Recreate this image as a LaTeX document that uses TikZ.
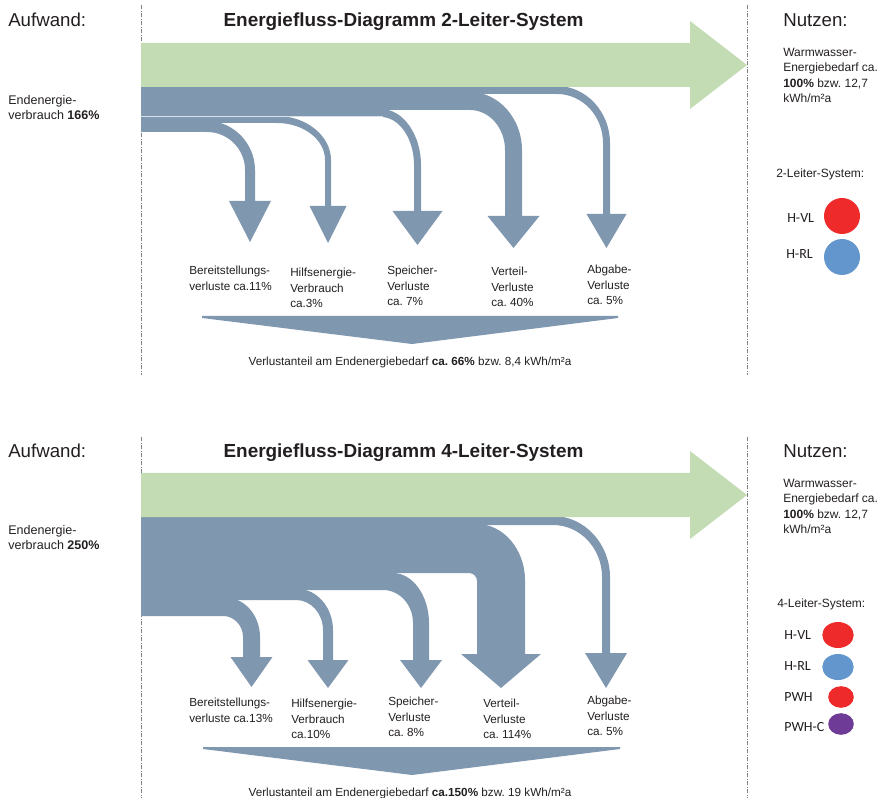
\documentclass[tikz,border=0pt]{standalone}
\usepackage{fontspec}
\setmainfont{Liberation Sans}
\newfontfamily\legendfont{Carlito}
\frenchspacing

\definecolor{flowblue}{HTML}{8097B0}
\definecolor{usegreen}{HTML}{C3DCB3}
\definecolor{pipered}{HTML}{EE2A2A}
\definecolor{pipeblue}{HTML}{6396CD}
\definecolor{pipeviolet}{HTML}{6E3C96}
\definecolor{ink}{HTML}{231F20}

\begin{document}
\begin{tikzpicture}[
  x=0.75pt, y=-0.75pt,
  flow/.style={fill=flowblue},
  gain/.style={fill=usegreen},
  seam/.style={draw=white!70!flowblue, line width=0.7pt},
  sepline/.style={draw=gray, line width=0.5pt, dash pattern=on 3pt off 1.2pt on 0.6pt off 1.2pt},
  side/.style={font=\fontsize{14}{16}\selectfont, text=ink, anchor=base west, inner sep=0pt},
  headline/.style={font=\fontsize{14.2}{16}\selectfont\bfseries, text=ink, anchor=base, inner sep=0pt},
  txt/.style={font=\fontsize{8.8}{11.6}\selectfont, text=ink, align=left, anchor=north west, inner sep=0pt},
  note/.style={txt, font=\fontsize{9.4}{11.3}\selectfont},
  gainnote/.style={txt, font=\fontsize{9}{11.5}\selectfont},
  sum/.style={font=\fontsize{8.8}{11}\selectfont, text=ink, anchor=base, inner sep=0pt},
  key/.style={font=\legendfont\fontsize{10.5}{12}\selectfont, text=ink, anchor=west, inner sep=0pt}
]
\useasboundingbox (0,0) rectangle (882,798);

% --- dashed frame lines ---
\draw[sepline] (141,5) -- (141,375);
\draw[sepline] (747,5) -- (747,375);
\draw[sepline] (141,437) -- (141,798);
\draw[sepline] (747,437) -- (747,798);

% --- loss arrows: top y / width / right x / outer rx,ry / inner rx,ry / head base / half head / tip
% (top edge raised by 1 so neighbouring bands overlap without a seam)
\foreach \yt/\w/\xr/\rxo/\ryo/\rxi/\ryi/\hb/\hw/\tip in {
    87/7/610/53/56/46/49/214/20/248,      % Abgabe 2L
    93/17/522/52/57/35/40/216/26/248,     % Verteil 2L
    110/7/421/40/55/33/48/211/25/245,     % Speicher 2L
    117/6/331/54/43/48/37/206/18.5/243,   % Hilfsenergie 2L
    122/10/255/48/48/38/38/201/21/242,    % Bereitstellung 2L
    517/8/610/57/60/49/52/653/21/688,     % Abgabe 4L
    525/48/525/48/55/8/8/654/40/688,      % Verteil 4L
    574/16/429/36/49/30/33/660/21/688,    % Speicher 4L
    590/10/333/35/40/27/30/660/20.5/688,  % Hilfsenergie 4L
    599/17/260/33/38/20/21/657/21/687}    % Bereitstellung 4L
{
  \fill[flow] (141,{\yt-1}) -- ({\xr-\rxo},{\yt-1})
    .. controls ({\xr-0.448*\rxo},{\yt-1}) and (\xr,{\yt+0.448*\ryo}) .. (\xr,{\yt+\ryo})
    -- (\xr,\hb) -- ({\xr-\w/2+\hw},\hb) -- ({\xr-\w/2},\tip) -- ({\xr-\w/2-\hw},\hb)
    -- ({\xr-\w},\hb) -- ({\xr-\w},{\yt+\w+\ryi})
    .. controls ({\xr-\w},{\yt+\w+0.448*\ryi}) and ({\xr-\w-0.448*\rxi},{\yt+\w}) .. ({\xr-\w-\rxi},{\yt+\w})
    -- (141,{\yt+\w}) -- cycle;
}
\draw[seam] (141,116) -- (383,116);

% --- useful energy (green) ---
\fill[gain] (141,43) -- (690,43) -- (690,21) -- (747,65) -- (690,109) -- (690,87) -- (141,87) -- cycle;
\fill[gain] (141,473) -- (690,473) -- (690,451) -- (747,495) -- (690,539) -- (690,517) -- (141,517) -- cycle;

% --- collected losses ---
\fill[flow] (202,316) -- (618,316) -- (618,318) -- (412,344) -- (202,318) -- cycle;
\fill[flow] (203,747) -- (620,747) -- (620,749) -- (412,775) -- (203,749) -- cycle;

% --- 2-Leiter-System ---
\node[side] (aufwandA) at (8,27) {Aufwand:};
\node[headline] (titleA) at (403.5,27) {Energiefluss-Diagramm 2-Leiter-System};
\node[side] (nutzenA) at (783,27) {Nutzen:};
\node[note] (inA) at (8,95) {Endenergie-\\verbrauch \textbf{166\%}};
\node[gainnote] (outA) at (783,48) {Warmwasser-\\Energiebedarf ca.\\\textbf{100\%} bzw. 12,7\\kWh/m²a};
\node[txt] (lossA1) at (189,266) {Bereitstellungs-\\verluste ca.11\%};
\node[txt] (lossA2) at (290,268) {Hilfsenergie-\\Verbrauch\\ca.3\%};
\node[txt] (lossA3) at (387,266) {Speicher-\\Verluste\\ca. 7\%};
\node[txt] (lossA4) at (491,267) {Verteil-\\Verluste\\ca. 40\%};
\node[txt] (lossA5) at (587,265) {Abgabe-\\Verluste\\ca. 5\%};
\node[sum] (sumA) at (410,366) {Verlustanteil am Endenergiebedarf \textbf{ca. 66\%} bzw. 8,4 kWh/m²a};

\node[txt, font=\fontsize{9}{11}\selectfont] (legA) at (776,169) {2-Leiter-System:};
\node[key] (hvlA) at (787,218) {H-VL};
\node[key] (hrlA) at (786,254) {H-RL};
\fill[pipered] (842,216) circle[radius=18];
\fill[pipeblue] (842,257) circle[radius=18];

% --- 4-Leiter-System ---
\node[side] (aufwandB) at (8,458) {Aufwand:};
\node[headline] (titleB) at (403.5,458) {Energiefluss-Diagramm 4-Leiter-System};
\node[side] (nutzenB) at (783,458) {Nutzen:};
\node[note] (inB) at (8,525) {Endenergie-\\verbrauch \textbf{250\%}};
\node[gainnote] (outB) at (783,479) {Warmwasser-\\Energiebedarf ca.\\\textbf{100\%} bzw. 12,7\\kWh/m²a};
\node[txt] (lossB1) at (189,698) {Bereitstellungs-\\verluste ca.13\%};
\node[txt] (lossB2) at (291,699) {Hilfsenergie-\\Verbrauch\\ca.10\%};
\node[txt] (lossB3) at (388,697) {Speicher-\\Verluste\\ca. 8\%};
\node[txt] (lossB4) at (483,699) {Verteil-\\Verluste\\ca. 114\%};
\node[txt] (lossB5) at (587,696) {Abgabe-\\Verluste\\ca. 5\%};
\node[sum] (sumB) at (410,796) {Verlustanteil am Endenergiebedarf \textbf{ca.150\%} bzw. 19 kWh/m²a};

\node[txt, font=\fontsize{9}{11}\selectfont] (legB) at (777,599) {4-Leiter-System:};
\node[key] (hvlB) at (784,635) {H-VL};
\node[key] (hrlB) at (784,666) {H-RL};
\node[key] (pwhB) at (784,697) {PWH};
\node[key] (pwhcB) at (784,727) {PWH-C};
\fill[pipered] (838,635) ellipse[x radius=15.7, y radius=13];
\fill[pipeblue] (838,667) ellipse[x radius=15.7, y radius=13];
\fill[pipered] (841,697) ellipse[x radius=12.8, y radius=10.8];
\fill[pipeviolet] (841,724) ellipse[x radius=12.8, y radius=10.8];

\end{tikzpicture}
\end{document}
